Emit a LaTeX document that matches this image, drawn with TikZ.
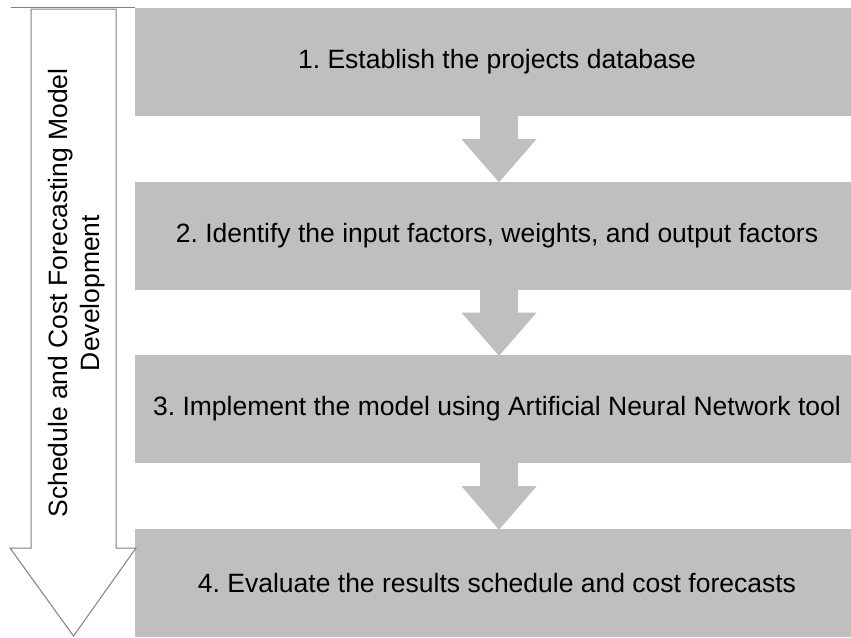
\documentclass[tikz,border=0pt]{standalone}
\usepackage{fontspec}
\setmainfont{Liberation Sans}
\usetikzlibrary{calc}
\definecolor{boxgray}{RGB}{191,191,191}
\definecolor{linegray}{RGB}{128,128,128}
\tikzset{
  stepbox/.style={rectangle, fill=boxgray, minimum width=724pt, minimum height=108pt,
    inner sep=0pt, font=\fontsize{26.5}{32}\selectfont, text=black},
  flowarrow/.style={fill=boxgray},
  phasearrow/.style={draw=linegray, line width=1pt, fill=white, line join=miter},
}
\frenchspacing
\begin{document}
\begin{tikzpicture}[x=1pt, y=-1pt]
  \useasboundingbox (0,0) rectangle (851,637);
  \clip (0,0) rectangle (851,637);

  % process steps
  \node[stepbox] (b1) at (497,62)    {1. Establish the projects database};
  \node[stepbox] (b2) at (497,235.5) {2. Identify the input factors, weights, and output factors};
  \node[stepbox] (b3) at (497,409)   {3. Implement the model using Artificial Neural Network tool};
  \node[stepbox] (b4) at (497,583)   {4. Evaluate the results schedule and cost forecasts};

  % block arrows between steps
  \foreach \u/\v in {b1/b2, b2/b3, b3/b4}{
    \path (\u.south) ++(2,-1) coordinate (s);
    \path (\v.north) ++(2,1) coordinate (t);
    \fill[flowarrow] ($(s)+(-19,0)$) -- ($(s)+(-19,24)$) -- ($(s)+(-37.5,24)$)
      -- (t) -- ($(s)+(37.5,24)$) -- ($(s)+(19,24)$) -- ($(s)+(19,0)$) -- cycle;
  }

  % phase arrow on the left
  \draw[linegray, line width=1pt] (11,7.5) -- (135,7.5);
  \draw[phasearrow] (31,9) -- (31,548) -- (10,548) -- (73.5,636) -- (136,548)
    -- (116,548) -- (116,9) -- cycle;
  \node[rotate=90, align=center, font=\fontsize{26.5}{32}\selectfont, inner sep=0pt]
    (phase) at (77,293) {Schedule and Cost Forecasting Model\\Development};
\end{tikzpicture}
\end{document}
